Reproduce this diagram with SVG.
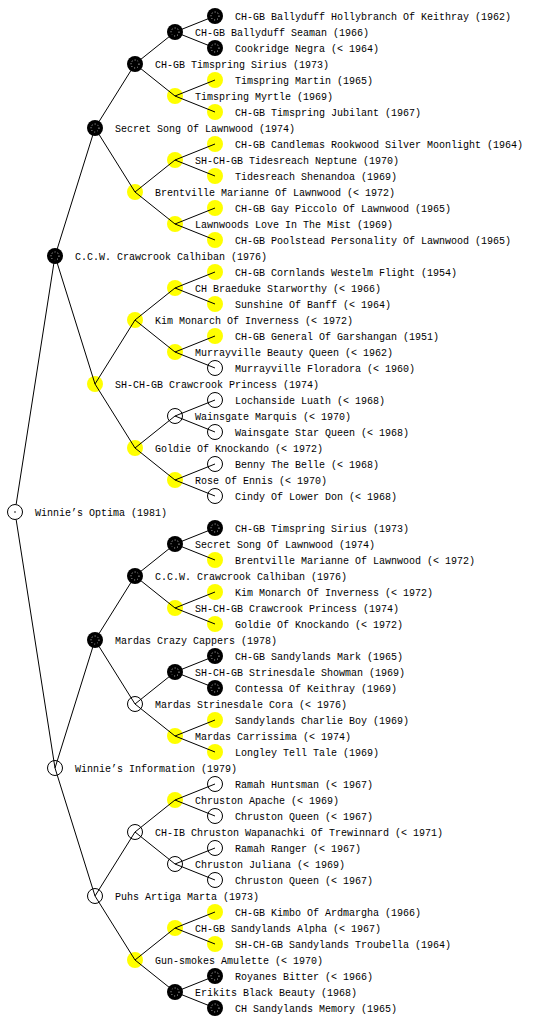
<svg xmlns="http://www.w3.org/2000/svg" xmlns:xlink="http://www.w3.org/1999/xlink" width="560" height="1024" viewBox="0 0 560 1024">
<style>
.t{font-family:"Liberation Mono","DejaVu Sans Mono",monospace;font-size:10px;fill:#000}
.w{fill:#fff;stroke:#000;stroke-width:1}
.y{fill:#ffff00}
.b{fill:#000}
.dots{fill:none;stroke:#fff;stroke-width:0.8;stroke-dasharray:1 2}
.e{fill:none;stroke:#000;stroke-width:1}
</style>
<defs>
<g id="B"><circle r="8" class="b"/><circle r="4" class="dots"/></g>
<g id="Y"><circle r="8" class="y"/></g>
<g id="W"><circle r="7.5" class="w"/></g>
</defs>
<rect width="560" height="1024" fill="#fff"/>
<g id="nodes">
<g id="n0"><use xlink:href="#B" x="215" y="16"/><text class="t" x="235" y="20">CH-GB Ballyduff Hollybranch Of Keithray (1962)</text></g>
<g id="n1"><use xlink:href="#B" x="175" y="32"/><text class="t" x="195" y="36">CH-GB Ballyduff Seaman (1966)</text></g>
<g id="n2"><use xlink:href="#B" x="215" y="48"/><text class="t" x="235" y="52">Cookridge Negra (&lt; 1964)</text></g>
<g id="n3"><use xlink:href="#B" x="135" y="64"/><text class="t" x="155" y="68">CH-GB Timspring Sirius (1973)</text></g>
<g id="n4"><use xlink:href="#Y" x="215" y="80"/><text class="t" x="235" y="84">Timspring Martin (1965)</text></g>
<g id="n5"><use xlink:href="#Y" x="175" y="96"/><text class="t" x="195" y="100">Timspring Myrtle (1969)</text></g>
<g id="n6"><use xlink:href="#Y" x="215" y="112"/><text class="t" x="235" y="116">CH-GB Timspring Jubilant (1967)</text></g>
<g id="n7"><use xlink:href="#B" x="95" y="128"/><text class="t" x="115" y="132">Secret Song Of Lawnwood (1974)</text></g>
<g id="n8"><use xlink:href="#Y" x="215" y="144"/><text class="t" x="235" y="148">CH-GB Candlemas Rookwood Silver Moonlight (1964)</text></g>
<g id="n9"><use xlink:href="#Y" x="175" y="160"/><text class="t" x="195" y="164">SH-CH-GB Tidesreach Neptune (1970)</text></g>
<g id="n10"><use xlink:href="#Y" x="215" y="176"/><text class="t" x="235" y="180">Tidesreach Shenandoa (1969)</text></g>
<g id="n11"><use xlink:href="#Y" x="135" y="192"/><text class="t" x="155" y="196">Brentville Marianne Of Lawnwood (&lt; 1972)</text></g>
<g id="n12"><use xlink:href="#Y" x="215" y="208"/><text class="t" x="235" y="212">CH-GB Gay Piccolo Of Lawnwood (1965)</text></g>
<g id="n13"><use xlink:href="#Y" x="175" y="224"/><text class="t" x="195" y="228">Lawnwoods Love In The Mist (1969)</text></g>
<g id="n14"><use xlink:href="#Y" x="215" y="240"/><text class="t" x="235" y="244">CH-GB Poolstead Personality Of Lawnwood (1965)</text></g>
<g id="n15"><use xlink:href="#B" x="55" y="256"/><text class="t" x="75" y="260">C.C.W. Crawcrook Calhiban (1976)</text></g>
<g id="n16"><use xlink:href="#Y" x="215" y="272"/><text class="t" x="235" y="276">CH-GB Cornlands Westelm Flight (1954)</text></g>
<g id="n17"><use xlink:href="#Y" x="175" y="288"/><text class="t" x="195" y="292">CH Braeduke Starworthy (&lt; 1966)</text></g>
<g id="n18"><use xlink:href="#Y" x="215" y="304"/><text class="t" x="235" y="308">Sunshine Of Banff (&lt; 1964)</text></g>
<g id="n19"><use xlink:href="#Y" x="135" y="320"/><text class="t" x="155" y="324">Kim Monarch Of Inverness (&lt; 1972)</text></g>
<g id="n20"><use xlink:href="#Y" x="215" y="336"/><text class="t" x="235" y="340">CH-GB General Of Garshangan (1951)</text></g>
<g id="n21"><use xlink:href="#Y" x="175" y="352"/><text class="t" x="195" y="356">Murrayville Beauty Queen (&lt; 1962)</text></g>
<g id="n22"><use xlink:href="#W" x="215" y="368"/><text class="t" x="235" y="372">Murrayville Floradora (&lt; 1960)</text></g>
<g id="n23"><use xlink:href="#Y" x="95" y="384"/><text class="t" x="115" y="388">SH-CH-GB Crawcrook Princess (1974)</text></g>
<g id="n24"><use xlink:href="#W" x="215" y="400"/><text class="t" x="235" y="404">Lochanside Luath (&lt; 1968)</text></g>
<g id="n25"><use xlink:href="#W" x="175" y="416"/><text class="t" x="195" y="420">Wainsgate Marquis (&lt; 1970)</text></g>
<g id="n26"><use xlink:href="#W" x="215" y="432"/><text class="t" x="235" y="436">Wainsgate Star Queen (&lt; 1968)</text></g>
<g id="n27"><use xlink:href="#Y" x="135" y="448"/><text class="t" x="155" y="452">Goldie Of Knockando (&lt; 1972)</text></g>
<g id="n28"><use xlink:href="#W" x="215" y="464"/><text class="t" x="235" y="468">Benny The Belle (&lt; 1968)</text></g>
<g id="n29"><use xlink:href="#Y" x="175" y="480"/><text class="t" x="195" y="484">Rose Of Ennis (&lt; 1970)</text></g>
<g id="n30"><use xlink:href="#W" x="215" y="496"/><text class="t" x="235" y="500">Cindy Of Lower Don (&lt; 1968)</text></g>
<g id="n31"><use xlink:href="#W" x="15" y="512"/><circle cx="15" cy="512" r="0.8" fill="#000"/><text class="t" x="35" y="516">Winnie’s Optima (1981)</text></g>
<g id="n32"><use xlink:href="#B" x="215" y="528"/><text class="t" x="235" y="532">CH-GB Timspring Sirius (1973)</text></g>
<g id="n33"><use xlink:href="#B" x="175" y="544"/><text class="t" x="195" y="548">Secret Song Of Lawnwood (1974)</text></g>
<g id="n34"><use xlink:href="#Y" x="215" y="560"/><text class="t" x="235" y="564">Brentville Marianne Of Lawnwood (&lt; 1972)</text></g>
<g id="n35"><use xlink:href="#B" x="135" y="576"/><text class="t" x="155" y="580">C.C.W. Crawcrook Calhiban (1976)</text></g>
<g id="n36"><use xlink:href="#Y" x="215" y="592"/><text class="t" x="235" y="596">Kim Monarch Of Inverness (&lt; 1972)</text></g>
<g id="n37"><use xlink:href="#Y" x="175" y="608"/><text class="t" x="195" y="612">SH-CH-GB Crawcrook Princess (1974)</text></g>
<g id="n38"><use xlink:href="#Y" x="215" y="624"/><text class="t" x="235" y="628">Goldie Of Knockando (&lt; 1972)</text></g>
<g id="n39"><use xlink:href="#B" x="95" y="640"/><text class="t" x="115" y="644">Mardas Crazy Cappers (1978)</text></g>
<g id="n40"><use xlink:href="#B" x="215" y="656"/><text class="t" x="235" y="660">CH-GB Sandylands Mark (1965)</text></g>
<g id="n41"><use xlink:href="#B" x="175" y="672"/><text class="t" x="195" y="676">SH-CH-GB Strinesdale Showman (1969)</text></g>
<g id="n42"><use xlink:href="#B" x="215" y="688"/><text class="t" x="235" y="692">Contessa Of Keithray (1969)</text></g>
<g id="n43"><use xlink:href="#W" x="135" y="704"/><text class="t" x="155" y="708">Mardas Strinesdale Cora (&lt; 1976)</text></g>
<g id="n44"><use xlink:href="#Y" x="215" y="720"/><text class="t" x="235" y="724">Sandylands Charlie Boy (1969)</text></g>
<g id="n45"><use xlink:href="#Y" x="175" y="736"/><text class="t" x="195" y="740">Mardas Carrissima (&lt; 1974)</text></g>
<g id="n46"><use xlink:href="#Y" x="215" y="752"/><text class="t" x="235" y="756">Longley Tell Tale (1969)</text></g>
<g id="n47"><use xlink:href="#W" x="55" y="768"/><text class="t" x="75" y="772">Winnie’s Information (1979)</text></g>
<g id="n48"><use xlink:href="#W" x="215" y="784"/><text class="t" x="235" y="788">Ramah Huntsman (&lt; 1967)</text></g>
<g id="n49"><use xlink:href="#Y" x="175" y="800"/><text class="t" x="195" y="804">Chruston Apache (&lt; 1969)</text></g>
<g id="n50"><use xlink:href="#W" x="215" y="816"/><text class="t" x="235" y="820">Chruston Queen (&lt; 1967)</text></g>
<g id="n51"><use xlink:href="#W" x="135" y="832"/><text class="t" x="155" y="836">CH-IB Chruston Wapanachki Of Trewinnard (&lt; 1971)</text></g>
<g id="n52"><use xlink:href="#W" x="215" y="848"/><text class="t" x="235" y="852">Ramah Ranger (&lt; 1967)</text></g>
<g id="n53"><use xlink:href="#W" x="175" y="864"/><text class="t" x="195" y="868">Chruston Juliana (&lt; 1969)</text></g>
<g id="n54"><use xlink:href="#W" x="215" y="880"/><text class="t" x="235" y="884">Chruston Queen (&lt; 1967)</text></g>
<g id="n55"><use xlink:href="#W" x="95" y="896"/><text class="t" x="115" y="900">Puhs Artiga Marta (1973)</text></g>
<g id="n56"><use xlink:href="#Y" x="215" y="912"/><text class="t" x="235" y="916">CH-GB Kimbo Of Ardmargha (1966)</text></g>
<g id="n57"><use xlink:href="#Y" x="175" y="928"/><text class="t" x="195" y="932">CH-GB Sandylands Alpha (&lt; 1967)</text></g>
<g id="n58"><use xlink:href="#Y" x="215" y="944"/><text class="t" x="235" y="948">SH-CH-GB Sandylands Troubella (1964)</text></g>
<g id="n59"><use xlink:href="#Y" x="135" y="960"/><text class="t" x="155" y="964">Gun-smokes Amulette (&lt; 1970)</text></g>
<g id="n60"><use xlink:href="#B" x="215" y="976"/><text class="t" x="235" y="980">Royanes Bitter (&lt; 1966)</text></g>
<g id="n61"><use xlink:href="#B" x="175" y="992"/><text class="t" x="195" y="996">Erikits Black Beauty (1968)</text></g>
<g id="n62"><use xlink:href="#B" x="215" y="1008"/><text class="t" x="235" y="1012">CH Sandylands Memory (1965)</text></g>
</g>
<g id="connectors" class="e">
<path d="M16.2 504.1L55 256M16.2 519.9L55 768
M55 256L95 128M55 256L95 384M55 768L95 640M55 768L95 896
M95 128L135 64M95 128L135 192M95 384L135 320M95 384L135 448
M95 640L135 576M95 640L135 704M95 896L135 832M95 896L135 960
M135 64L175 32M135 64L175 96M135 192L175 160M135 192L175 224
M135 320L175 288M135 320L175 352M135 448L175 416M135 448L175 480
M135 576L175 544M135 576L175 608M135 704L175 672M135 704L175 736
M135 832L175 800M135 832L175 864M135 960L175 928M135 960L175 992
M175 32L215 16M175 32L215 48M175 96L215 80M175 96L215 112
M175 160L215 144M175 160L215 176M175 224L215 208M175 224L215 240
M175 288L215 272M175 288L215 304M175 352L215 336M175 352L215 368
M175 416L215 400M175 416L215 432M175 480L215 464M175 480L215 496
M175 544L215 528M175 544L215 560M175 608L215 592M175 608L215 624
M175 672L215 656M175 672L215 688M175 736L215 720M175 736L215 752
M175 800L215 784M175 800L215 816M175 864L215 848M175 864L215 880
M175 928L215 912M175 928L215 944M175 992L215 976M175 992L215 1008"/>
</g>
</svg>
